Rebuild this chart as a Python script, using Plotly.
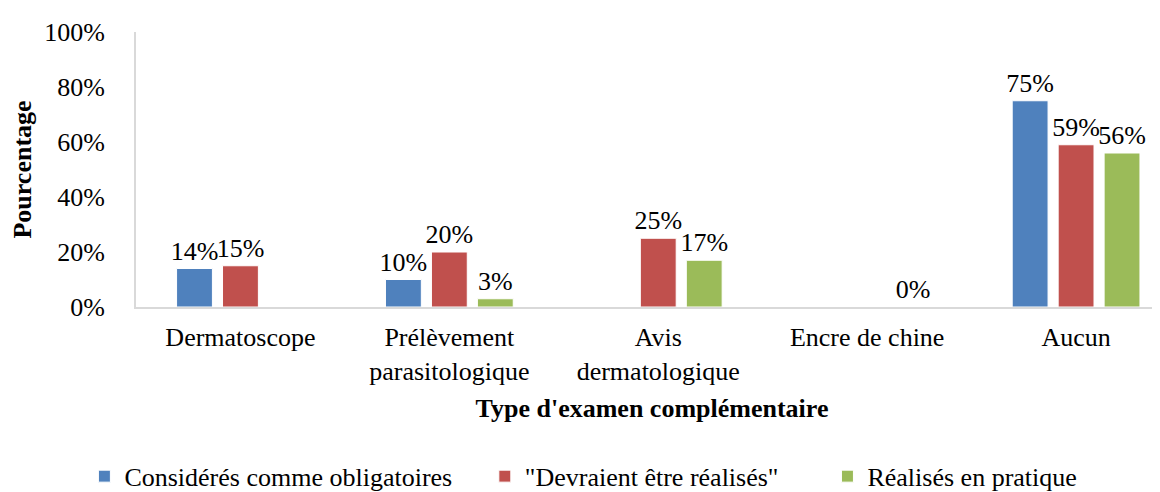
import plotly.graph_objects as go

categories = ["Dermatoscope", "Prélèvement<br>parasitologique", "Avis<br>dermatologique",
              "Encre de chine", "Aucun"]
series_names = ["Considérés comme obligatoires", "\"Devraient être réalisés\"", "Réalisés en pratique"]
obligatoires = [0.14, 0.10, None, None, 0.75]
devraient = [0.15, 0.20, 0.25, None, 0.59]
realises = [None, 0.03, 0.17, 0.0, 0.56]
colors = ["#4F81BD", "#C0504D", "#9BBB59"]
y_ticks = [0, 0.2, 0.4, 0.6, 0.8, 1.0]
y_ticktext = ["0%", "20%", "40%", "60%", "80%", "100%"]

FONT = "Liberation Serif, serif"
FS = 26

legend_ids = ["legend", "legend2", "legend3"]
legend_x = [-0.05, 0.338, 0.670]

fig = go.Figure()
for name, vals, col, lid in zip(series_names, [obligatoires, devraient, realises], colors, legend_ids):
    texts = ["" if v is None else f"{round(v*100)}%" for v in vals]
    fig.add_trace(go.Bar(
        x=categories, y=vals, name=name, legend=lid,
        marker=dict(color=col, line=dict(color="white", width=1)),
        text=texts, textposition="outside", cliponaxis=False, constraintext="none",
        textfont=dict(family=FONT, size=FS, color="#000000"),
    ))

leg_common = dict(orientation="h", y=-0.53, yanchor="top", xanchor="left",
                  font=dict(family=FONT, size=FS, color="#000000"),
                  itemwidth=30, bgcolor="rgba(0,0,0,0)")
fig.update_layout(
    width=1160, height=492,
    margin=dict(l=128, r=0, t=24, b=187),
    paper_bgcolor="white", plot_bgcolor="white",
    barmode="group", bargap=0.34, bargroupgap=0.22,
    font=dict(family=FONT, size=FS, color="#000000"),
    showlegend=True,
    legend=dict(x=legend_x[0], **leg_common),
    legend2=dict(x=legend_x[1], **leg_common),
    legend3=dict(x=legend_x[2], **leg_common),
    uniformtext=dict(mode=False),
)
fig.update_xaxes(
    type="category", range=[-0.5, 4.44],
    showline=True, linecolor="#D9D9D9", linewidth=2,
    showgrid=False, ticks="", ticklabelstandoff=6,
    tickfont=dict(family=FONT, size=FS, color="#000000"),
    title=dict(text="<b>Type d'examen complémentaire</b>", font=dict(family=FONT, size=FS, color="#000000"),
               standoff=14),
)
fig.update_yaxes(
    range=[0, 1.0], tickvals=y_ticks, ticktext=y_ticktext,
    showline=True, linecolor="#D9D9D9", linewidth=2,
    showgrid=False, zeroline=False, ticks="",
    ticklabelstandoff=24,
    tickfont=dict(family=FONT, size=FS, color="#000000"),
    title=dict(text="<b>Pourcentage</b>", font=dict(family=FONT, size=FS, color="#000000"), standoff=10),
)

fig.write_html("out.html")
